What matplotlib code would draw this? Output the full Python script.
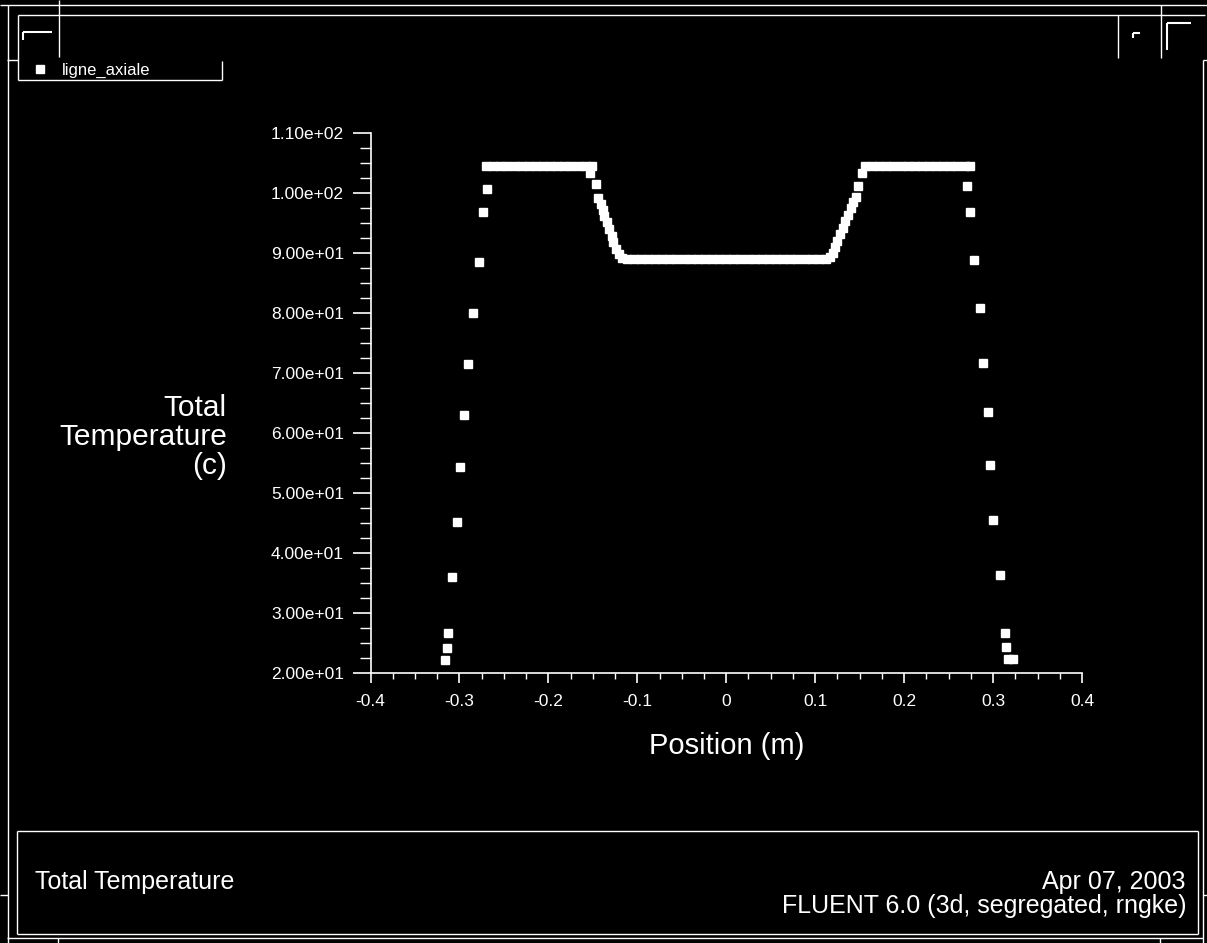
import matplotlib
matplotlib.use("Agg")
import matplotlib.pyplot as plt
from matplotlib.ticker import MultipleLocator, FuncFormatter

plt.rcParams['font.family'] = ['Liberation Sans', 'DejaVu Sans']

# ---- data: position (m) vs total temperature (c), series "ligne_axiale"
position = [
    -0.316, -0.314, -0.313, -0.308, -0.303, -0.299, -0.295, -0.290, -0.285, -0.278, -0.273, -0.269,
    -0.270, -0.262, -0.254, -0.246, -0.238, -0.230, -0.222, -0.214, -0.206, -0.198, -0.190, -0.182,
    -0.174, -0.166, -0.158, -0.151,
    -0.153, -0.146, -0.144, -0.141, -0.139, -0.137, -0.134, -0.132, -0.129, -0.127, -0.124, -0.121, -0.117,
    -0.112, -0.104, -0.096, -0.088, -0.080, -0.072, -0.064, -0.056, -0.048, -0.040, -0.032, -0.024,
    -0.016, -0.008, 0.000, 0.008, 0.016, 0.024, 0.032, 0.040, 0.048, 0.056, 0.064, 0.072, 0.080,
    0.088, 0.096, 0.104, 0.112,
    0.117, 0.120, 0.122, 0.125, 0.128, 0.131, 0.134, 0.137, 0.140, 0.143, 0.146, 0.148, 0.153,
    0.156, 0.164, 0.172, 0.180, 0.188, 0.196, 0.204, 0.212, 0.220, 0.228, 0.236, 0.244, 0.252,
    0.260, 0.268, 0.274,
    0.271, 0.274, 0.279, 0.285, 0.289, 0.294, 0.297, 0.300, 0.308, 0.313, 0.315, 0.317, 0.322,
]
temperature = [
    22.2, 24.2, 26.7, 36.0, 45.2, 54.3, 63.0, 71.5, 80.0, 88.5, 96.8, 100.7,
    104.5, 104.5, 104.5, 104.5, 104.5, 104.5, 104.5, 104.5, 104.5, 104.5, 104.5, 104.5,
    104.5, 104.5, 104.5, 104.5,
    103.3, 101.5, 99.2, 98.2, 97.2, 96.2, 95.1, 94.0, 92.9, 91.8, 90.7, 89.8, 89.2,
    89.0, 89.0, 89.0, 89.0, 89.0, 89.0, 89.0, 89.0, 89.0, 89.0, 89.0, 89.0,
    89.0, 89.0, 89.0, 89.0, 89.0, 89.0, 89.0, 89.0, 89.0, 89.0, 89.0, 89.0, 89.0,
    89.0, 89.0, 89.0, 89.0,
    89.3, 90.0, 91.0, 92.0, 93.1, 94.2, 95.3, 96.4, 97.5, 98.5, 99.4, 101.1, 103.3,
    104.5, 104.5, 104.5, 104.5, 104.5, 104.5, 104.5, 104.5, 104.5, 104.5, 104.5, 104.5, 104.5,
    104.5, 104.5, 104.5,
    101.2, 96.8, 88.8, 80.8, 71.7, 63.5, 54.7, 45.5, 36.3, 26.7, 24.3, 22.3, 22.3,
]
series_name = "ligne_axiale"
x_label = "Position (m)"
y_label = "Total\nTemperature\n(c)"
footer_left = "Total Temperature"
footer_right = "Apr 07, 2003\nFLUENT 6.0 (3d, segregated, rngke)"

W, H = 1207, 943
fig = plt.figure(figsize=(W / 100, H / 100), dpi=100, facecolor='black')

# ---- overlay for window frame decorations (pixel coordinates)
ov = fig.add_axes([0, 0, 1, 1], zorder=0)
ov.set_xlim(0, W)
ov.set_ylim(H, 0)
ov.axis('off')
ov.set_facecolor('black')

def seg(x0, y0, x1, y1, lw=1.0):
    ov.plot([x0, x1], [y0, y1], color='white', lw=lw, solid_capstyle='butt')

seg(0, 5, W, 5)
seg(18, 15, 1205, 15)
seg(8, 5, 8, H)
seg(7, 60, 18, 60)
seg(18, 15, 18, 80)
seg(59, 0, 59, 57)
seg(23, 32, 52, 32, 1.5); seg(23, 32, 23, 40, 1.5)
seg(18, 80, 222, 80)
seg(222, 61, 222, 80)
seg(1118, 15, 1118, 58)
seg(1133, 33, 1140, 33, 1.5); seg(1133, 33, 1133, 38, 1.5)
seg(1161, 5, 1161, 58)
seg(1167, 23, 1191, 23, 1.5); seg(1167, 23, 1167, 50, 1.5)
seg(1203, 60, 1203, H)
seg(1203, 60, W, 60)
# bottom info box
seg(17, 831, 1198, 831); seg(17, 934, 1198, 934)
seg(17, 831, 17, 934); seg(1198, 831, 1198, 934)
seg(7, 938, 1203, 938)
seg(58, 938, 58, H); seg(1160, 938, 1160, H)
seg(0, 895, 8, 895); seg(1203, 895, W, 895)

ov.text(35, 882, footer_left, color='white', fontsize=18, ha='left', va='center')
ov.text(1186, 894, footer_right, color='white', fontsize=18, ha='right', va='center',
        multialignment='right', linespacing=1.05)

# ---- main plot
left, right = 370.5 / W, 1082 / W
bottom, top = 1 - 673 / H, 1 - 133 / H
ax = fig.add_axes([left, bottom, right - left, top - bottom], zorder=2)
ax.set_facecolor('none')
sc, = ax.plot(position, temperature, linestyle='none', marker='s', markersize=6.3,
              color='white', markeredgecolor='white', label=series_name, clip_on=False)
ax.set_xlim(-0.4, 0.4)
ax.set_ylim(20, 110)
for s in ['top', 'right']:
    ax.spines[s].set_visible(False)
for s in ['left', 'bottom']:
    ax.spines[s].set_color('white')
    ax.spines[s].set_linewidth(1.2)
ax.xaxis.set_major_locator(MultipleLocator(0.1))
ax.xaxis.set_minor_locator(MultipleLocator(0.025))
ax.yaxis.set_major_locator(MultipleLocator(10))
ax.yaxis.set_minor_locator(MultipleLocator(2.5))
ax.xaxis.set_major_formatter(FuncFormatter(lambda v, p: ('0' if abs(v) < 1e-9 else f"{v:.1f}")))
ax.yaxis.set_major_formatter(FuncFormatter(lambda v, p: f"{v:.2e}"))
ax.tick_params(axis='x', which='major', length=7, width=1.2, color='white',
               labelcolor='white', labelsize=12.5, pad=8)
ax.tick_params(axis='x', which='minor', length=4, width=1.0, color='white')
ax.tick_params(axis='y', which='major', length=13, width=1.2, color='white',
               labelcolor='white', labelsize=12.5, pad=6)
ax.tick_params(axis='y', which='minor', length=8, width=1.0, color='white')
ax.set_xlabel(x_label, color='white', fontsize=21, labelpad=17)

ov.text(227, 437, y_label, color='white', fontsize=21.5, ha='right', va='center',
        multialignment='right', linespacing=1.05)

# legend
leg = fig.legend(handles=[sc], labels=[series_name], loc='center left',
                 bbox_to_anchor=(20 / W, 1 - 70 / H), frameon=False, fontsize=12,
                 handlelength=0.6, handletextpad=1.0, markerscale=1.0, labelcolor='white')

fig.savefig("out.png", dpi=100, facecolor='black')
